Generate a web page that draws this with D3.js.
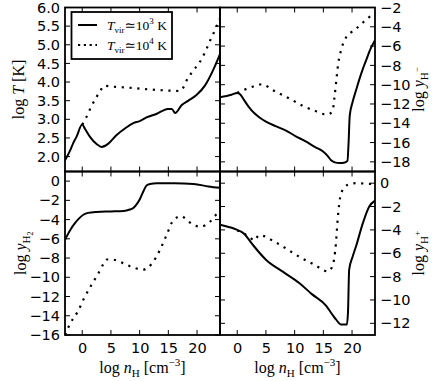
<!DOCTYPE html>
<html>
<head>
<meta charset="utf-8">
<script src="https://cdn.jsdelivr.net/npm/d3@7"></script>
<style>
  body { margin: 0; background: #fff; }
  svg { display: block; }
  .tick text { font-family: "DejaVu Sans", sans-serif; font-size: 14.5px; fill: #000; }
  .lab { font-family: "Liberation Serif", "DejaVu Serif", serif; font-size: 16px; fill: #000; }
</style>
</head>
<body>
<svg id="chart" width="436" height="381"></svg>
<script>
// x positions (log nH) and values for each curve
const tempSolidX = [-3, -2, -1.55, -1, 0, 0.5, 1.35, 2.5, 3.4, 4.5, 6, 7.5, 8.9, 10, 11.2, 13, 14.9, 15.6, 16.2, 17.3, 18.5, 19.9, 21.4, 22.8, 24];
const tempSolidY = [1.9, 2.2, 2.37, 2.53, 2.86, 2.74, 2.53, 2.34, 2.26, 2.34, 2.58, 2.76, 2.9, 2.95, 3.05, 3.15, 3.28, 3.28, 3.17, 3.38, 3.5, 3.65, 3.91, 4.32, 4.75];
const tempDotX = [0, 0.7, 1.6, 2.5, 3.2, 3.8, 5, 8, 11, 14, 17, 17.6, 18.2, 19.3, 20.5, 21.4, 22.3, 23, 23.7, 24];
const tempDotY = [2.86, 3.05, 3.35, 3.6, 3.78, 3.9, 3.88, 3.85, 3.81, 3.78, 3.76, 3.85, 4.05, 4.3, 4.54, 4.8, 5.12, 5.35, 5.6, 5.7];

const hmSolidX = [-3, -1, 0, 0.5, 1.2, 2, 3, 4, 5, 6.7, 8.5, 10.2, 12, 13.5, 14.9, 15.7, 16.3, 17, 17.8, 18.6, 19.2, 19.4, 19.6, 20.1, 20.7, 21.3, 21.9, 22.5, 23, 24];
const hmSolidY = [-11.3, -11.05, -10.85, -11.0, -11.6, -12.3, -12.97, -13.45, -13.83, -14.3, -14.76, -15.35, -15.9, -16.45, -16.9, -17.35, -17.8, -18.05, -18.13, -18.1, -17.9, -16, -13.2, -11.8, -10.57, -9.4, -8.33, -7.4, -6.6, -5.4];
const hmDotX = [0, 0.9, 2.5, 4.4, 6, 7.9, 9.6, 11.4, 13.5, 15.5, 16.6, 16.9, 17.2, 17.6, 18.1, 19, 20, 20.7, 22, 23, 24];
const hmDotY = [-10.85, -10.6, -10.25, -9.95, -10.5, -11.08, -11.6, -12.2, -12.7, -13.1, -12.8, -11.5, -9.9, -7.8, -6.4, -5.06, -4.5, -4.2, -3.5, -3.0, -2.6];

const h2SolidX = [-3, -2, -1.3, -0.5, 0.2, 1, 2.5, 5, 7.2, 8.3, 8.9, 9.5, 10.1, 10.7, 11.2, 11.8, 13, 16, 19.4, 22, 24];
const h2SolidY = [-6.1, -5.0, -4.4, -3.85, -3.5, -3.3, -3.2, -3.15, -3.1, -2.95, -2.8, -2.4, -1.8, -1.0, -0.45, -0.3, -0.23, -0.22, -0.3, -0.55, -0.7];
const h2DotX = [-3, -2.25, -1.6, -0.8, 0.3, 1.6, 2.8, 3.6, 4.3, 5.7, 7, 8.3, 10.6, 12.1, 13.5, 14.7, 15.9, 17.3, 18.5, 20.5, 22.3, 23.7, 24];
const h2DotY = [-16.0, -15, -14.3, -13.6, -12.2, -10.8, -9.6, -8.7, -8.15, -8.2, -8.5, -8.85, -9.2, -8.6, -7.2, -5.6, -4.05, -3.65, -4.2, -4.75, -4.2, -3.2, -3.0];

const hpSolidX = [-3, -1.5, -0.5, 1.2, 2.7, 5, 8, 10.8, 13, 15.5, 16.5, 17.2, 18.1, 19.1, 19.3, 19.5, 20.1, 20.7, 21.9, 23, 24];
const hpSolidY = [-3.56, -3.75, -3.9, -4.33, -5.27, -6.55, -7.6, -8.55, -9.5, -10.5, -11.2, -11.67, -12.1, -12.1, -11, -7.4, -6.3, -5.4, -3.4, -2.0, -1.5];
const hpDotX = [0, 1.2, 2.1, 3.0, 3.8, 6.8, 10.8, 13.5, 15.8, 16.6, 17.2, 17.5, 18.1, 19.2, 20.7, 23.6, 24];
const hpDotY = [-4.05, -4.33, -4.6, -4.9, -4.45, -5.1, -6.3, -7.0, -7.55, -7.1, -5.1, -3.1, -0.86, -0.15, 0, -0.07, -0.07];

const xDomain = [-3, 24];
const xTicks = [0, 5, 10, 15, 20];
const legendExps = ["3", "4"];

const svg = d3.select('#chart');
const L = 65, M = 220, R = 375, T = 7.5, H = 171.5, B = 335;

const panels = [
  { id: 'tl', x0: L, x1: M, y0: T, y1: H, dom: [1.6, 6], ticks: d3.range(2, 6.01, 0.5), fmt: d3.format('.1f'), side: 'left',
    solid: [tempSolidX, tempSolidY], dot: [tempDotX, tempDotY], xlab: false },
  { id: 'tr', x0: M, x1: R, y0: T, y1: H, dom: [-19, -2], ticks: d3.range(-18, -1, 2), fmt: d3.format('d'), side: 'right',
    solid: [hmSolidX, hmSolidY], dot: [hmDotX, hmDotY], xlab: false },
  { id: 'bl', x0: L, x1: M, y0: H, y1: B, dom: [-16, 1], ticks: d3.range(-16, 1, 2), fmt: d3.format('d'), side: 'left',
    solid: [h2SolidX, h2SolidY], dot: [h2DotX, h2DotY], xlab: true },
  { id: 'br', x0: M, x1: R, y0: H, y1: B, dom: [-13, 1], ticks: d3.range(-12, 1, 2), fmt: d3.format('d'), side: 'right',
    solid: [hpSolidX, hpSolidY], dot: [hpDotX, hpDotY], xlab: true },
];

panels.forEach(p => {
  const x = d3.scaleLinear().domain(xDomain).range([p.x0, p.x1]);
  const y = d3.scaleLinear().domain(p.dom).range([p.y1, p.y0]);
  const g = svg.append('g');

  g.append('clipPath').attr('id', 'clip-' + p.id)
    .append('rect').attr('x', p.x0).attr('y', p.y0).attr('width', p.x1 - p.x0).attr('height', p.y1 - p.y0);

  const line = d3.line().x(d => x(d[0])).y(d => y(d[1])).curve(d3.curveMonotoneX);
  const plot = g.append('g').attr('clip-path', 'url(#clip-' + p.id + ')');

  plot.append('path')
    .datum(d3.zip(p.dot[0], p.dot[1]))
    .attr('d', line).attr('fill', 'none').attr('stroke', '#000')
    .attr('stroke-width', 2.2).attr('stroke-dasharray', '2.2,5.6');

  plot.append('path')
    .datum(d3.zip(p.solid[0], p.solid[1]))
    .attr('d', line).attr('fill', 'none').attr('stroke', '#000')
    .attr('stroke-width', 2);

  // inward ticks on all four sides
  const tk = 5;
  const ax = g.append('g').attr('stroke', '#000').attr('stroke-width', 1);
  xTicks.forEach(v => {
    ax.append('line').attr('x1', x(v)).attr('x2', x(v)).attr('y1', p.y1).attr('y2', p.y1 - tk);
    ax.append('line').attr('x1', x(v)).attr('x2', x(v)).attr('y1', p.y0).attr('y2', p.y0 + tk);
  });
  p.ticks.forEach(v => {
    ax.append('line').attr('x1', p.x0).attr('x2', p.x0 + tk).attr('y1', y(v)).attr('y2', y(v));
    ax.append('line').attr('x1', p.x1).attr('x2', p.x1 - tk).attr('y1', y(v)).attr('y2', y(v));
  });

  // tick labels
  const yAxis = p.side === 'left' ? d3.axisLeft(y) : d3.axisRight(y);
  const ya = g.append('g')
    .attr('transform', 'translate(' + (p.side === 'left' ? p.x0 : p.x1) + ',0)')
    .call(yAxis.tickValues(p.ticks).tickFormat(p.fmt).tickSize(0).tickPadding(5));
  ya.select('.domain').remove();

  if (p.xlab) {
    const xa = g.append('g').attr('transform', 'translate(0,' + p.y1 + ')')
      .call(d3.axisBottom(x).tickValues(xTicks).tickSize(0).tickPadding(8));
    xa.select('.domain').remove();
  }

  g.append('rect').attr('x', p.x0).attr('y', p.y0).attr('width', p.x1 - p.x0).attr('height', p.y1 - p.y0)
    .attr('fill', 'none').attr('stroke', '#000').attr('stroke-width', 1.8);
});

// axis labels
function yLabel(cx, cy, sub, sup) {
  const t = svg.append('text').attr('class', 'lab')
    .attr('transform', 'translate(' + cx + ',' + cy + ') rotate(-90)')
    .attr('text-anchor', 'middle');
  t.append('tspan').text('log ');
  t.append('tspan').attr('font-style', 'italic').text('y');
  t.append('tspan').attr('font-size', 11).attr('dy', 4).text(sub);
  if (sup) t.append('tspan').attr('font-size', 9).attr('dy', -8).text(sup);
  return t;
}

const tl = svg.append('text').attr('class', 'lab')
  .attr('transform', 'translate(24,' + ((T + H) / 2) + ') rotate(-90)').attr('text-anchor', 'middle');
tl.append('tspan').text('log ');
tl.append('tspan').attr('font-style', 'italic').text('T');
tl.append('tspan').text(' [K]');

yLabel(26, (H + B) / 2, 'H', null)
  .append('tspan').attr('font-size', 8).attr('dy', 3).text('2');
yLabel(424, (T + H) / 2, 'H', '\u2212');
yLabel(424, (H + B) / 2, 'H', '+');

[[L, M], [M, R]].forEach(([a, b]) => {
  const t = svg.append('text').attr('class', 'lab')
    .attr('x', (a + b) / 2).attr('y', 373).attr('text-anchor', 'middle');
  t.append('tspan').text('log ');
  t.append('tspan').attr('font-style', 'italic').text('n');
  t.append('tspan').attr('font-size', 11).attr('dy', 4).text('H');
  t.append('tspan').attr('dy', -4).text(' [cm');
  t.append('tspan').attr('font-size', 11).attr('dy', -7).text('\u22123');
  t.append('tspan').attr('dy', 7).text(']');
});

// legend
const lg = svg.append('g');
lg.append('rect').attr('x', 71.5).attr('y', 12).attr('width', 100.5).attr('height', 47)
  .attr('fill', '#fff').attr('stroke', '#000').attr('stroke-width', 1.8);
legendExps.forEach((e, i) => {
  const yy = 25 + i * 20;
  lg.append('line').attr('x1', 78).attr('x2', 97).attr('y1', yy).attr('y2', yy)
    .attr('stroke', '#000').attr('stroke-width', 2)
    .attr('stroke-dasharray', i === 0 ? null : '2.2,3.6');
  const t = lg.append('text').attr('class', 'lab').attr('x', 107).attr('y', yy + 5).style('font-size', '13.5px');
  t.append('tspan').attr('font-style', 'italic').text('T');
  t.append('tspan').attr('font-size', 9).attr('dy', 3).text('vir');
  t.append('tspan').attr('dy', -3).text('\u2243' + '10');
  t.append('tspan').attr('font-size', 9).attr('dy', -6).text(e);
  t.append('tspan').attr('dy', 6).text(' K');
});
</script>
</body>
</html>
